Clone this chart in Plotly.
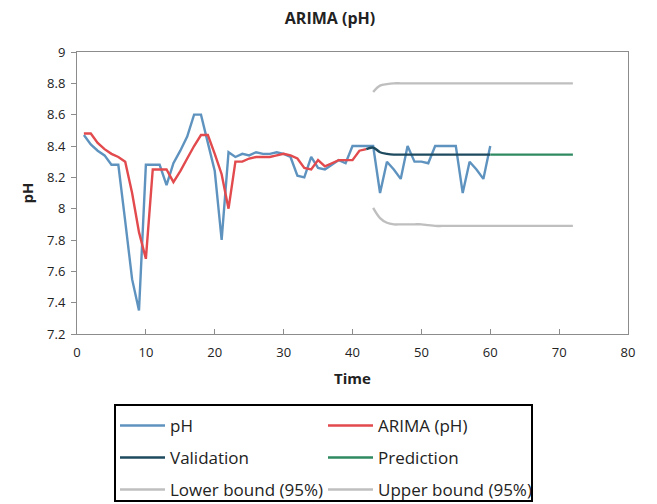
import plotly.graph_objects as go

# Observed pH, time steps 1..60
time_obs = list(range(1, 61))
ph = [8.47, 8.41, 8.37, 8.34, 8.28, 8.28, 7.92, 7.55, 7.35, 8.28,
      8.28, 8.28, 8.15, 8.29, 8.37, 8.46, 8.60, 8.60, 8.42, 8.24,
      7.80, 8.36, 8.33, 8.35, 8.34, 8.36, 8.35, 8.35, 8.36, 8.35,
      8.33, 8.21, 8.20, 8.33, 8.26, 8.25, 8.28, 8.31, 8.29, 8.40,
      8.40, 8.40, 8.40, 8.10, 8.30, 8.25, 8.19, 8.40, 8.30, 8.30,
      8.29, 8.40, 8.40, 8.40, 8.40, 8.10, 8.30, 8.25, 8.19, 8.40]

# ARIMA fitted values, time steps 1..42
time_fit = list(range(1, 43))
arima = [8.48, 8.48, 8.42, 8.38, 8.35, 8.33, 8.30, 8.10, 7.85, 7.68,
         8.25, 8.25, 8.25, 8.17, 8.24, 8.32, 8.40, 8.47, 8.47, 8.35,
         8.22, 8.00, 8.30, 8.30, 8.32, 8.33, 8.33, 8.33, 8.34, 8.35,
         8.34, 8.32, 8.26, 8.25, 8.31, 8.27, 8.29, 8.31, 8.31, 8.31,
         8.37, 8.38]

# Validation segment, time steps 42..60
time_val = list(range(42, 61))
validation = [8.38, 8.39, 8.36, 8.35, 8.345, 8.345, 8.345, 8.345, 8.345, 8.345,
              8.345, 8.345, 8.345, 8.345, 8.345, 8.345, 8.345, 8.345, 8.345]

# Forecast, time steps 60..72
time_pred = list(range(60, 73))
prediction = [8.345, 8.345, 8.345, 8.345, 8.345, 8.345, 8.345,
              8.345, 8.345, 8.345, 8.345, 8.345, 8.345]

# 95% confidence bounds, time steps 43..72
time_bound = list(range(43, 73))
lower = [8.005, 7.94, 7.91, 7.90, 7.90, 7.90, 7.90, 7.90, 7.895, 7.89,
         7.89, 7.89, 7.89, 7.89, 7.89, 7.89, 7.89, 7.89, 7.89, 7.89,
         7.89, 7.89, 7.89, 7.89, 7.89, 7.89, 7.89, 7.89, 7.89, 7.89]
upper = [8.745, 8.785, 8.795, 8.80, 8.80, 8.80, 8.80, 8.80, 8.80, 8.80,
         8.80, 8.80, 8.80, 8.80, 8.80, 8.80, 8.80, 8.80, 8.80, 8.80,
         8.80, 8.80, 8.80, 8.80, 8.80, 8.80, 8.80, 8.80, 8.80, 8.80]

x_ticks = [0, 10, 20, 30, 40, 50, 60, 70, 80]
y_ticks = [7.2, 7.4, 7.6, 7.8, 8.0, 8.2, 8.4, 8.6, 8.8, 9.0]
y_tick_text = ["7.2", "7.4", "7.6", "7.8", "8", "8.2", "8.4", "8.6", "8.8", "9"]

FONT = "Open Sans"
LW = 2.4

fig = go.Figure()
fig.add_trace(go.Scatter(x=time_bound, y=lower, mode="lines", name="Lower bound (95%)",
                         line=dict(color="#bfbfbf", width=LW, shape="spline"), legend="legend3"))
fig.add_trace(go.Scatter(x=time_bound, y=upper, mode="lines", name="Upper bound (95%)",
                         line=dict(color="#bfbfbf", width=LW, shape="spline"), legend="legend3"))
fig.add_trace(go.Scatter(x=time_obs, y=ph, mode="lines", name="pH",
                         line=dict(color="#5f93bf", width=LW), legend="legend"))
fig.add_trace(go.Scatter(x=time_fit, y=arima, mode="lines", name="ARIMA (pH)",
                         line=dict(color="#e24a4d", width=LW), legend="legend"))
fig.add_trace(go.Scatter(x=time_val, y=validation, mode="lines", name="Validation",
                         line=dict(color="#1d4a5e", width=LW, shape="spline"), legend="legend2"))
fig.add_trace(go.Scatter(x=time_pred, y=prediction, mode="lines", name="Prediction",
                         line=dict(color="#2f8a62", width=LW), legend="legend2"))

# Plot area: x 77..628 px, y 52..334 px
PL, PR, PT, PB = 77, 628, 52, 334
W, H = 657, 504


def px_x(p):
    return (p - PL) / (PR - PL)


def px_y(p):
    return (PB - p) / (PB - PT)


legend_common = dict(orientation="h", borderwidth=0, bgcolor="rgba(0,0,0,0)",
                     font=dict(family=FONT, size=17, color="#222"),
                     itemwidth=45, entrywidth=148, entrywidthmode="pixels",
                     xanchor="left", yanchor="middle", traceorder="normal")

fig.update_layout(
    width=W, height=H,
    margin=dict(l=PL, r=W - PR, t=PT, b=H - PB, autoexpand=False),
    paper_bgcolor="white", plot_bgcolor="white",
    font=dict(family=FONT, color="#222"),
    title=dict(text="<b>ARIMA (pH)</b>", x=330 / W, xref="container", xanchor="center",
               y=1 - 18 / H, yref="container", yanchor="middle",
               font=dict(family=FONT, size=16, color="#222")),
    xaxis=dict(range=[0, 80], tickvals=x_ticks, showgrid=False, zeroline=False,
               showline=True, linecolor="#8c8c8c", linewidth=1, mirror=True,
               ticks="inside", ticklen=5, tickcolor="#8c8c8c", ticklabelstandoff=6,
               tickfont=dict(family=FONT, size=13, color="#222"),
               title=dict(text="<b>Time</b>", font=dict(family=FONT, size=15, color="#222"),
                          standoff=13)),
    yaxis=dict(range=[7.2, 9.0], tickvals=y_ticks, ticktext=y_tick_text, showgrid=False,
               zeroline=False, showline=True, linecolor="#8c8c8c", linewidth=1, mirror=True,
               ticks="outside", ticklen=5, tickcolor="#8c8c8c", ticklabelstandoff=3,
               tickfont=dict(family=FONT, size=13, color="#222"),
               title=dict(text="<b>pH</b>", font=dict(family=FONT, size=15, color="#222"),
                          standoff=9)),
    legend=dict(x=px_x(115), y=px_y(426), **legend_common),
    legend2=dict(x=px_x(115), y=px_y(458), **legend_common),
    legend3=dict(x=px_x(115), y=px_y(490), **legend_common),
    shapes=[dict(type="rect", xref="paper", yref="paper",
                 x0=px_x(115), x1=px_x(532), y0=px_y(405), y1=px_y(501),
                 line=dict(color="black", width=2), fillcolor="rgba(0,0,0,0)")],
)

fig.write_html("out.html")
